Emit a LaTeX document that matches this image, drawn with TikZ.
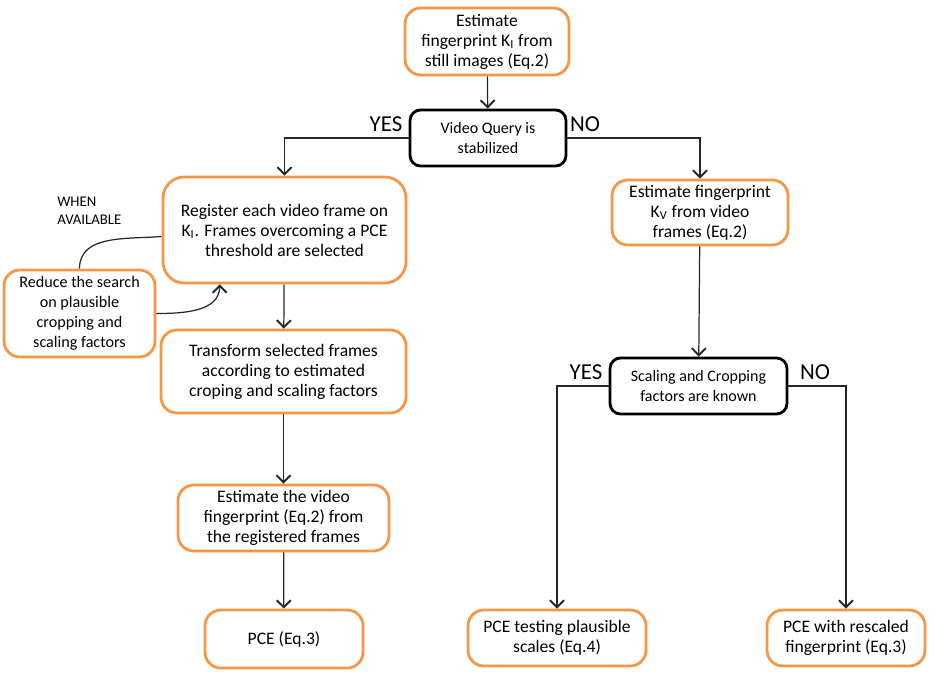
\documentclass[tikz,border=0pt]{standalone}
\usepackage{fontspec}
\setmainfont{Carlito}
\usetikzlibrary{arrows.meta}
\definecolor{boxorange}{RGB}{247,150,70}
\begin{document}
\begin{tikzpicture}[
	x=0.02cm, y=-0.02cm,
	% Define the styles for the boxes and connectors
	every node/.style={inner sep=0pt},
	wh/.style 2 args={minimum width=#1*0.02cm, minimum height=#2*0.02cm},
	procbox/.style={rectangle, rounded corners=9pt, draw=boxorange, line width=1.6pt, align=center, font=\fontsize{10}{11.4}\selectfont},
	testbox/.style={rectangle, rounded corners=6pt, draw=black, line width=1.6pt, align=center, font=\fontsize{9.1}{11.4}\selectfont},
	answer/.style={font=\fontsize{13}{15}\selectfont},
	flow/.style={draw=black!85, line width=0.7pt, -{Straight Barb[length=4pt, width=8pt, line width=1.1pt]}}
	]
	\useasboundingbox (0,0) rectangle (935,675);
	
	% --- BOXES ---
	% Format: \node[style, wh={w}{h}] (name) at (x,y) {text};
	
	\node[procbox, wh={164}{67}] (still) at (487,41.5) {Estimate\\fingerprint K\textsubscript{I} from\\still images (Eq.2)};
	\node[testbox, wh={156}{56}] (stab) at (488,138) {Video Query is\\stabilized};
	
	% left branch
	\node[procbox, wh={243}{106}, rounded corners=12pt] (reg) at (284.5,230) {Register each video frame on\\K\textsubscript{I}. Frames overcoming a PCE\\threshold are selected};
	\node[procbox, wh={151}{87}, font=\fontsize{9.2}{11.4}\selectfont] (reduce) at (79.5,313.5) {Reduce the search\\on plausible\\cropping and\\scaling factors};
	\node[procbox, wh={245}{83}] (transf) at (283.5,371.5) {Transform selected frames\\according to estimated\\croping and scaling factors};
	\node[procbox, wh={211}{66}] (estvid) at (283.5,518) {Estimate the video\\fingerprint (Eq.2) from\\the registered frames};
	\node[procbox, wh={158}{58}] (pce) at (284,639) {PCE (Eq.3)};
	
	% right branch
	\node[procbox, wh={176}{65}] (kv) at (700,212.5) {Estimate fingerprint\\K\textsubscript{V} from video\\frames (Eq.2)};
	\node[testbox, wh={177}{56}] (known) at (698.5,386) {Scaling and Cropping\\factors are known};
	\node[procbox, wh={178}{56}] (pcetest) at (557,638) {PCE testing plausible\\scales (Eq.4)};
	\node[procbox, wh={158}{56}] (pcescale) at (846,638) {PCE with rescaled\\fingerprint (Eq.3)};
	
	% --- LABELS ---
	\node[answer] (yes1) at (386,124) {YES};
	\node[answer] (no1) at (585,124) {NO};
	\node[answer] (yes2) at (586,372) {YES};
	\node[answer] (no2) at (815,372) {NO};
	\node[font=\fontsize{8.4}{10}\selectfont, align=left, anchor=north west] (when) at (57,197) {WHEN\\AVAILABLE};
	
	% --- CONNECTORS ---
	\draw[flow] (still) -- (stab);
	\draw[flow] (stab.west) -| (reg.north); % YES
	\draw[flow] (stab.east) -| (kv.north); % NO
	\draw[flow] (reg) -- (transf);
	\draw[flow] (transf) -- (estvid);
	\draw[flow] (estvid) -- (pce);
	\draw[flow] (kv) -- (known);
	\draw[flow] (known.west) -| (pcetest.north); % YES
	\draw[flow] (known.east) -| (pcescale.north); % NO
	
	% feedback loop between reg and reduce
	\draw[black!85, line width=0.7pt] (reduce.north) to[out=90, in=185] (reg.183);
	\draw[flow] (reduce.east) to[out=0, in=-90] (reg.220);
	
\end{tikzpicture}
\end{document}
